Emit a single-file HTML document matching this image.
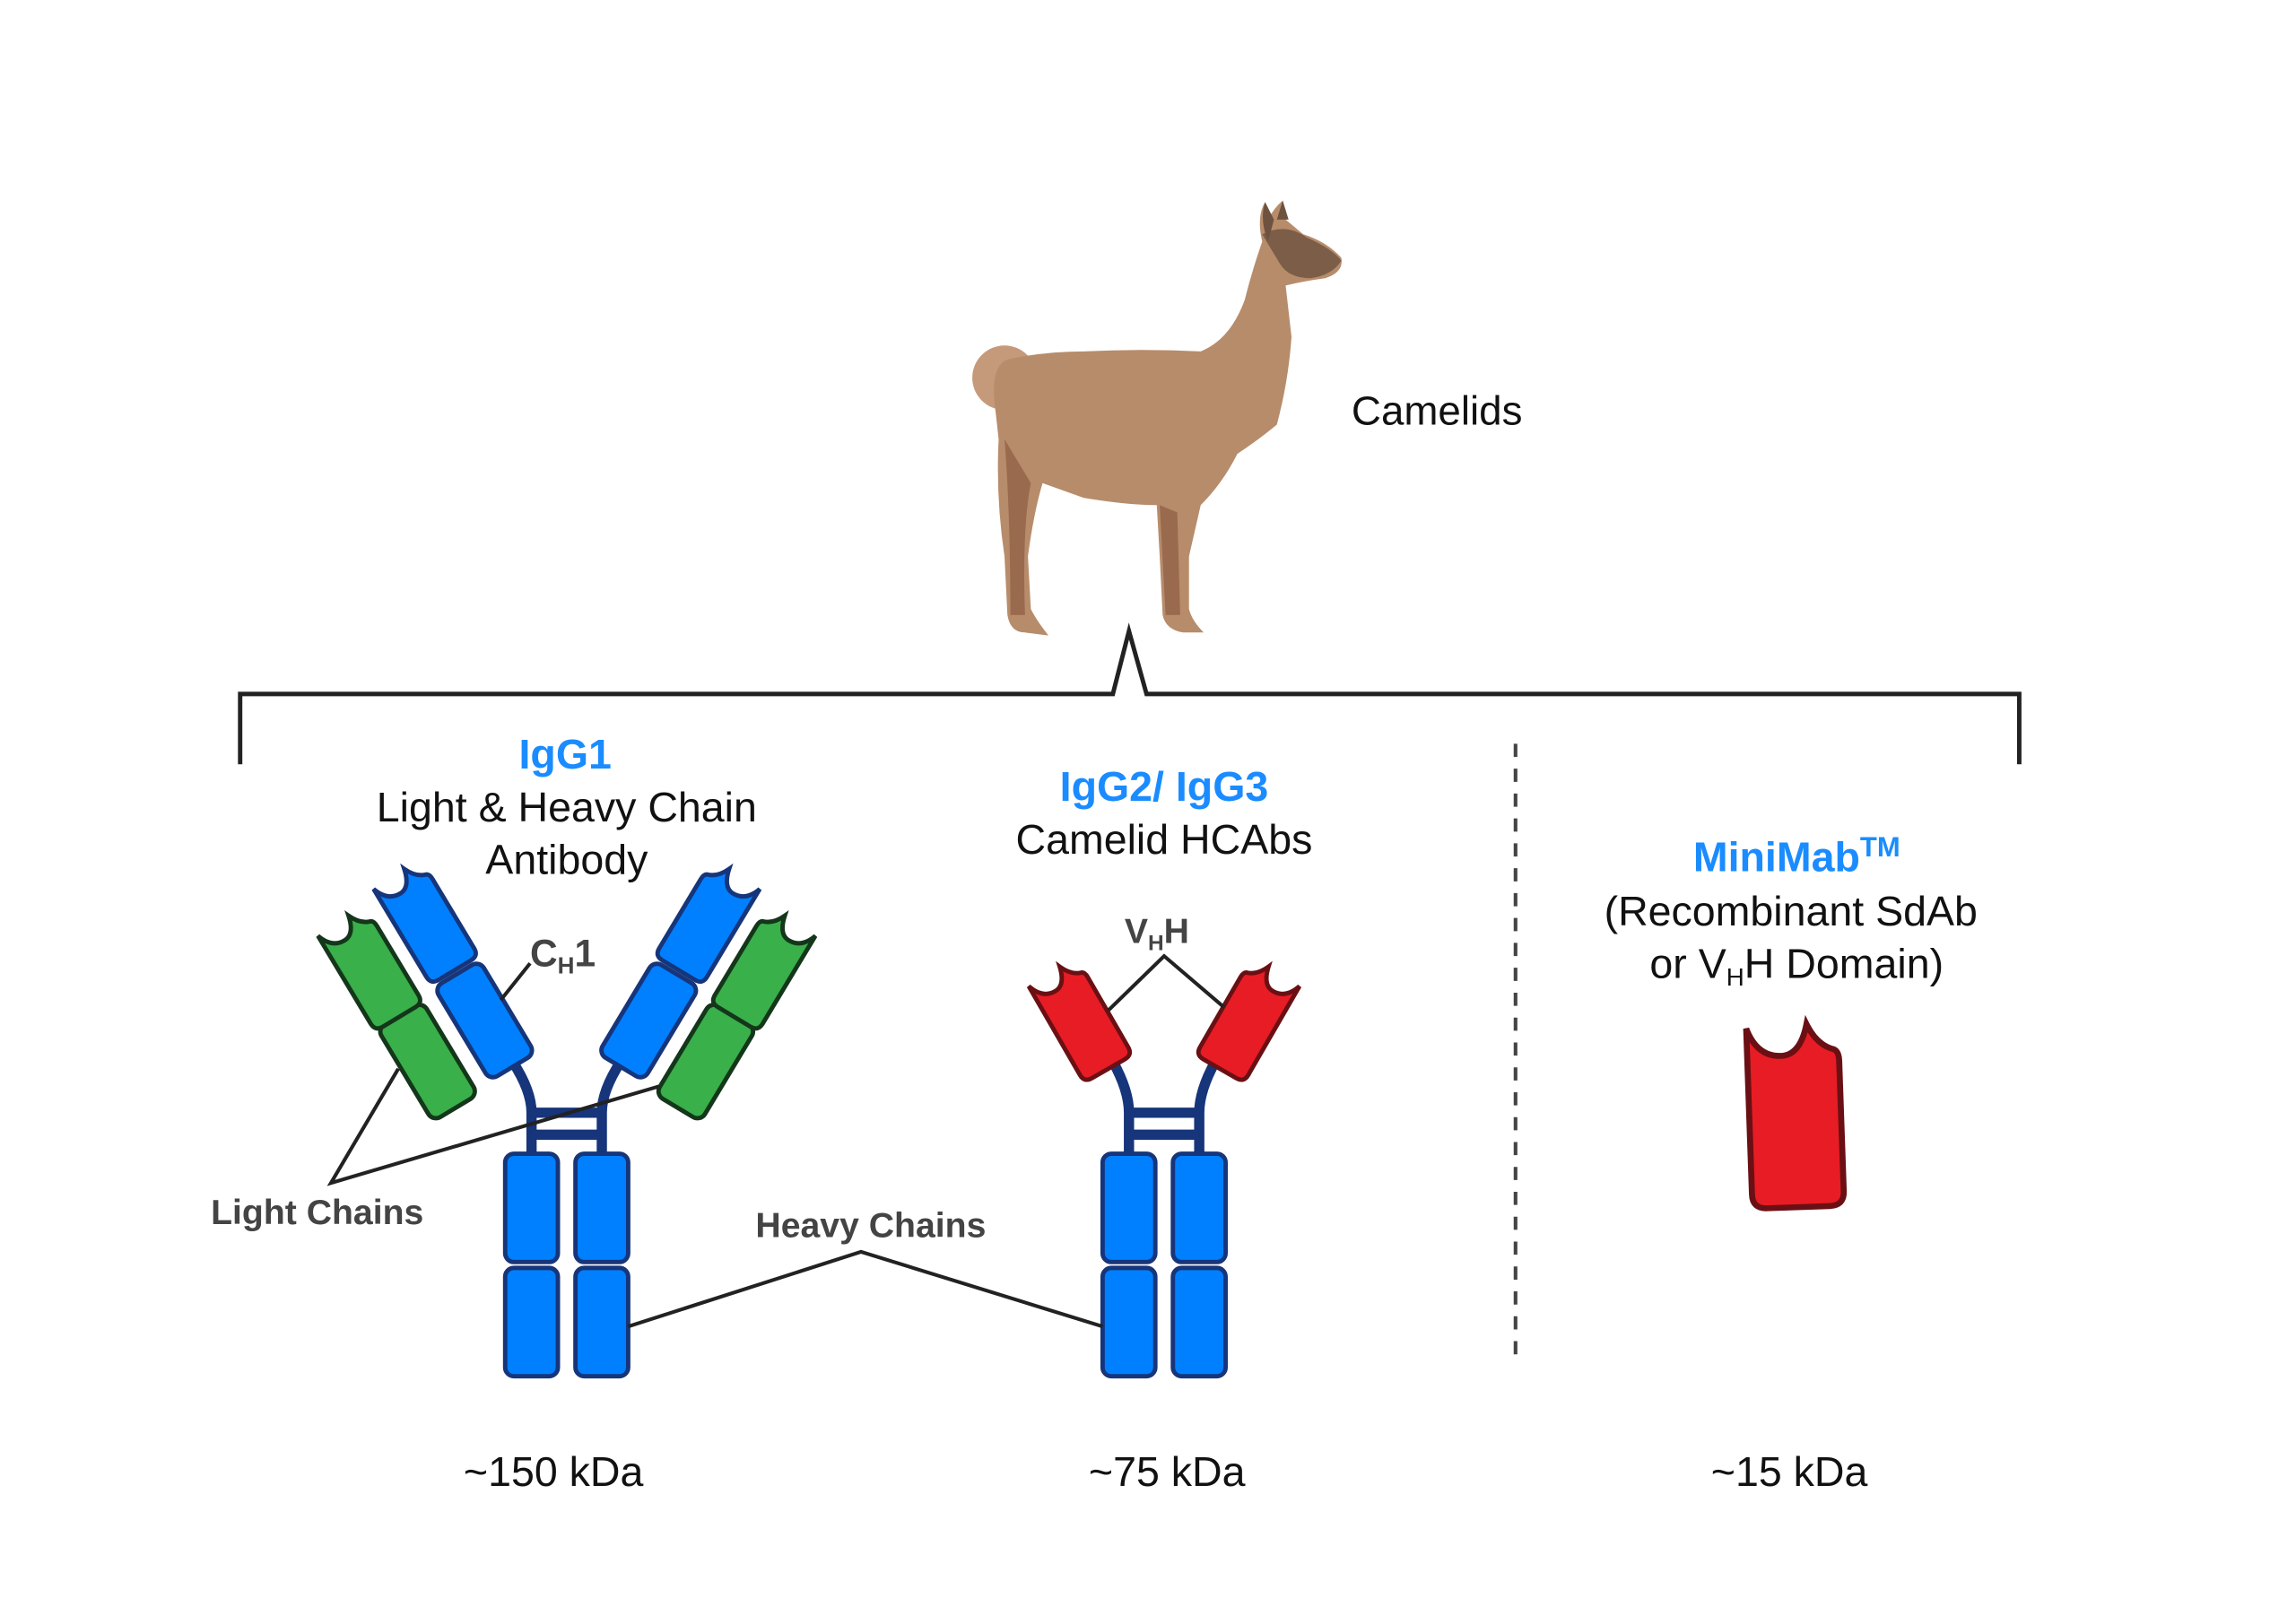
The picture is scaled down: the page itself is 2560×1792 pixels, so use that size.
<!DOCTYPE html>
<html><head><meta charset="utf-8"><style>
html,body{margin:0;padding:0;background:#fff;}
svg{display:block;}
text{font-family:"Liberation Sans",sans-serif;}
</style></head><body>
<svg width="2560" height="1792" viewBox="0 0 1568 1097.6" xmlns="http://www.w3.org/2000/svg">
<defs>
<path id="dom" d="M-19,-38 Q-15,-26 -5,-26 Q3,-26 6,-39 Q10,-30 17,-28 Q19,-27 19,-23 L19,32 Q19,38 13,38 L-13,38 Q-19,38 -19,32 Z"/>
<rect id="box" x="-18" y="-37" width="36" height="74" rx="6"/>
</defs>
<rect width="1568" height="1098" fill="#fff"/>

<!-- llama -->
<g>
<circle cx="686" cy="258" r="22" fill="#c49a7a"/>
<path d="M690,245 Q675,248 680,282 L682,300 Q680,340 686,380 L688,420 Q690,432 700,432 L716,434 Q708,424 704,416 L702,380 Q706,350 712,330 L740,340 Q770,345 790,345 L792,380 L794,420 Q796,430 808,432 L822,432 Q814,424 812,416 L812,380 L820,345 Q835,330 845,310 Q860,300 872,290 Q880,260 882,230 L878,195 Q890,192 905,190 Q918,186 916,176 Q906,165 890,160 L878,150 L876,137 Q870,142 866,150 L864,138 Q858,148 862,165 Q855,185 850,205 Q840,232 820,240 Q780,238 740,240 Q715,240 690,245 Z" fill="#b78c6b"/>
<path d="M862,160 Q878,152 892,162 Q910,170 916,178 Q910,188 895,190 Q880,190 874,180 Z" fill="#7c5d48"/>
<path d="M864,138 Q860,150 866,165 L870,150 Z M876,137 L872,150 L880,150 Z" fill="#6e5240"/>
<path d="M686,300 Q690,350 690,420 L700,420 Q698,360 704,330 Z" fill="#9a6a4e"/>
<path d="M792,345 L796,420 L806,420 L804,350 Z" fill="#9a6a4e"/>
</g>
<text x="923" y="290" font-size="28" fill="#111">Camelids</text>

<!-- bracket -->
<path d="M164,522 L164,474 L760,474 L771,431 L783,474 L1379,474 L1379,522" fill="none" stroke="#222" stroke-width="3"/>
<line x1="1035" y1="508" x2="1035" y2="932" stroke="#444" stroke-width="2.5" stroke-dasharray="9,8"/>

<!-- titles -->
<g text-anchor="middle" font-size="28.5" fill="#111">
<text x="386" y="525" fill="#1a8cff" font-weight="bold">IgG1</text>
<text x="387" y="561">Light &amp; Heavy Chain</text>
<text x="387" y="597">Antibody</text>
<text x="795" y="547" fill="#1a8cff" font-weight="bold">IgG2/ IgG3</text>
<text x="795" y="583">Camelid HCAbs</text>
<text x="1227" y="595" fill="#1a8cff" font-weight="bold">MiniMab<tspan font-size="19" dy="-10">TM</tspan></text>
<text x="1223" y="632">(Recombinant SdAb</text>
<text x="1227" y="668">or V<tspan font-size="17" dy="5">H</tspan><tspan dy="-5">H Domain)</tspan></text>
<text x="378" y="1015">~150 kDa</text>
<text x="797" y="1015">~75 kDa</text>
<text x="1222" y="1015">~15 kDa</text>
</g>

<!-- IgG1 -->
<g stroke="#16357a" stroke-width="7" fill="none">
<path d="M363,790 L363,760 Q363,745 350,725"/>
<path d="M411,790 L411,760 Q411,745 424,725"/>
<line x1="363" y1="760" x2="411" y2="760"/><line x1="363" y1="775" x2="411" y2="775"/>
</g>
<g fill="#0080ff" stroke="#16357a" stroke-width="3">
<use href="#box" transform="translate(363,825)"/><use href="#box" transform="translate(411,825)"/>
<use href="#box" transform="translate(363,903)"/><use href="#box" transform="translate(411,903)"/>
<use href="#box" transform="translate(331,697) rotate(-31)"/>
<use href="#dom" transform="translate(291,630) rotate(-31)"/>
<use href="#box" transform="translate(443,697) rotate(31)"/>
<use href="#dom" transform="translate(483,630) rotate(31) scale(-1,1)"/>
</g>
<g fill="#39b04a" stroke="#14361a" stroke-width="3">
<use href="#box" transform="translate(292,725) rotate(-31)"/>
<use href="#dom" transform="translate(253,662) rotate(-31)"/>
<use href="#box" transform="translate(482,725) rotate(31)"/>
<use href="#dom" transform="translate(521,662) rotate(31) scale(-1,1)"/>
</g>

<!-- HCAb -->
<g stroke="#16357a" stroke-width="7" fill="none">
<path d="M771,790 L771,760 Q771,745 760,725"/>
<path d="M819,790 L819,760 Q819,745 830,725"/>
<line x1="771" y1="760" x2="819" y2="760"/><line x1="771" y1="775" x2="819" y2="775"/>
</g>
<g fill="#0080ff" stroke="#16357a" stroke-width="3">
<use href="#box" transform="translate(771,825)"/><use href="#box" transform="translate(819,825)"/>
<use href="#box" transform="translate(771,903)"/><use href="#box" transform="translate(819,903)"/>
</g>
<g fill="#e81c24" stroke="#6a1014" stroke-width="3">
<use href="#dom" transform="translate(738,697) rotate(-30)"/>
<use href="#dom" transform="translate(852,697) rotate(30) scale(-1,1)"/>
<use href="#dom" transform="translate(1226,763) rotate(-2) scale(1.65,1.62)" stroke-width="2.5"/>
</g>

<!-- labels & leader lines -->
<g stroke="#222" stroke-width="2.5" fill="none">
<line x1="362" y1="658" x2="342" y2="683"/>
<polyline points="272,730 226,808 450,742"/>
<polyline points="429,906 588,855 753,906"/>
<polyline points="757,690 795,653 836,688"/>
</g>
<g font-weight="bold" fill="#444">
<text x="362" y="660" font-size="26">C<tspan font-size="16" dy="5">H</tspan><tspan dy="-5">1</tspan></text>
<text x="144" y="836" font-size="24">Light Chains</text>
<text x="516" y="845" font-size="24">Heavy Chains</text>
<text x="768" y="644" font-size="24">V<tspan font-size="15" dy="5">H</tspan><tspan dy="-5">H</tspan></text>
</g>
</svg>
</body></html>
